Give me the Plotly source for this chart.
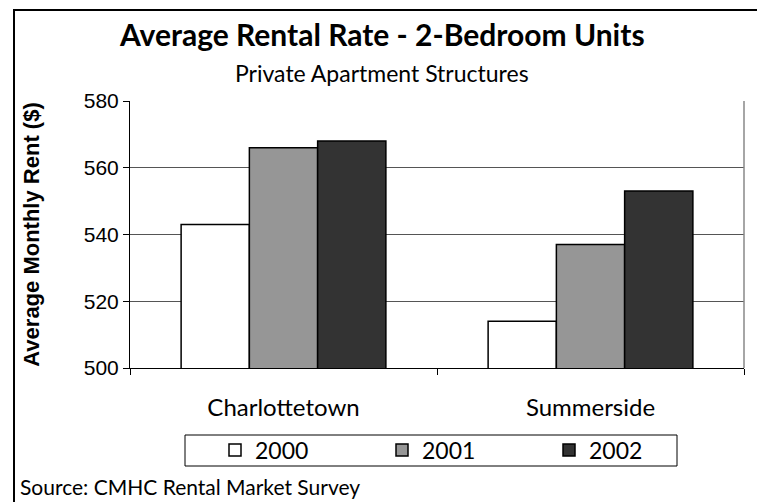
import plotly.graph_objects as go

cities = ["Charlottetown", "Summerside"]
years = ["2000", "2001", "2002"]
rent_2000 = [543, 514]
rent_2001 = [566, 537]
rent_2002 = [568, 553]
y_ticks = [500, 520, 540, 560, 580]

# the page body has an 8px margin, so the figure is offset by 8px
OFF = 8
W, H = 765 - OFF, 502 - OFF
L, R, T, B = 122, 21, 93, 134
PW, PH = W - L - R, H - T - B


def px(sx):
    return (sx - OFF - L) / PW


def py(sy):
    return (H - B - (sy - OFF)) / PH


fills = ["#ffffff", "#969696", "#333333"]
series = [rent_2000, rent_2001, rent_2002]

COND = "Lato, 'DejaVu Sans Condensed', sans-serif"
ARIAL = "'Liberation Sans', Arial, sans-serif"

fig = go.Figure()
for name, vals, col in zip(years, series, fills):
    fig.add_trace(go.Bar(
        x=cities, y=vals, name=name,
        marker=dict(color=col, line=dict(color="#000000", width=1.5)),
    ))

fig.update_layout(
    width=W, height=H,
    margin=dict(l=L, r=R, t=T, b=B, pad=0),
    paper_bgcolor="white", plot_bgcolor="white",
    barmode="group", bargap=0.333, bargroupgap=0,
    showlegend=True,
    legend=dict(
        orientation="h", x=px(215), xanchor="left", y=py(450), yanchor="middle",
        font=dict(family=COND, size=23, color="#000"),
        entrywidth=122, entrywidthmode="pixels",
        bgcolor="rgba(0,0,0,0)", borderwidth=0,
        itemclick=False, itemdoubleclick=False,
    ),
    xaxis=dict(
        showline=True, linecolor="#000", linewidth=1,
        ticks="outside", tickson="boundaries", ticklen=6, tickcolor="#000",
        tickfont=dict(family=COND, size=24, color="#000"),
        ticklabelstandoff=18,
        showgrid=False, fixedrange=True,
    ),
    yaxis=dict(
        range=[500, 580], tickvals=y_ticks,
        showline=True, linecolor="#000", linewidth=1,
        ticks="outside", ticklen=6, tickcolor="#000",
        tickfont=dict(family=ARIAL, size=21, color="#000"),
        showgrid=True, gridcolor="#555", gridwidth=1,
        zeroline=False, fixedrange=True,
        title=dict(text="<b>Average Monthly Rent ($)</b>",
                   font=dict(family=ARIAL, size=22, color="#000"), standoff=38),
    ),
    annotations=[
        dict(text="<b>Average Rental Rate - 2-Bedroom Units</b>",
             x=px(382), y=py(34), xref="paper", yref="paper",
             xanchor="center", yanchor="middle", showarrow=False,
             font=dict(family=COND, size=30, color="#000")),
        dict(text="Private Apartment Structures",
             x=px(382), y=py(73), xref="paper", yref="paper",
             xanchor="center", yanchor="middle", showarrow=False,
             font=dict(family=COND, size=23, color="#000")),
        dict(text="Source: CMHC Rental Market Survey",
             x=px(18), y=py(486), xref="paper", yref="paper",
             xanchor="left", yanchor="middle", showarrow=False,
             font=dict(family=COND, size=21, color="#000")),
    ],
    shapes=[
        dict(type="rect", xref="paper", yref="paper",
             x0=px(14), x1=px(761), y0=py(515), y1=py(10),
             line=dict(color="#000", width=2), fillcolor="rgba(0,0,0,0)"),
        dict(type="rect", xref="paper", yref="paper",
             x0=px(185), x1=px(677), y0=py(466), y1=py(435),
             line=dict(color="#000", width=1), fillcolor="rgba(0,0,0,0)"),
        dict(type="line", xref="paper", yref="paper",
             x0=1, x1=1, y0=0, y1=1,
             line=dict(color="#888", width=1.5)),
    ],
)

fig.write_html("out.html")
